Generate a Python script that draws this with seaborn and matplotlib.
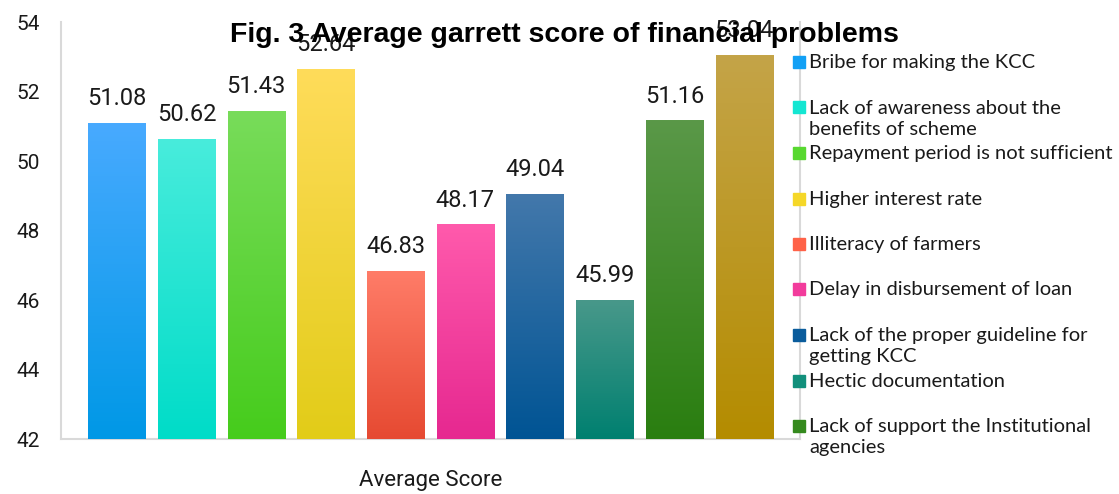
import numpy as np
import pandas as pd
import matplotlib
matplotlib.use("Agg")
import matplotlib.pyplot as plt
from matplotlib.colors import to_rgb
from matplotlib.patches import Rectangle
import seaborn as sns

### data ##########################################################
group = "Average Score"
scores = [51.08, 50.62, 51.43, 52.64, 46.83, 48.17, 49.04, 45.99, 51.16, 53.04]
# legend is cut off in the reference after the 9th entry
problems = ["Bribe for making the KCC",
            "Lack of awareness about the\nbenefits of scheme",
            "Repayment period is not sufficient",
            "Higher interest rate",
            "Illiteracy of farmers",
            "Delay in disbursement of loan",
            "Lack of the proper guideline for\ngetting KCC",
            "Hectic documentation",
            "Lack of support the Institutional\nagencies"]
legend_colors = ["#12a0f5", "#14e6d2", "#58d830", "#f5d728", "#ff6248",
                 "#f23c9c", "#0a5c9c", "#12907c", "#358a1e", "#bf9a14"]
top_colors = ["#48aaff", "#48ecdc", "#78dc5a", "#ffdc5a", "#ff7c68",
              "#ff5aac", "#4378ab", "#48988a", "#5a9848", "#c4a448"]
bottom_colors = ["#0098e6", "#00dcc8", "#46cc1c", "#e2cc18", "#e64a32",
                 "#e62890", "#005494", "#008070", "#2a7e10", "#b48c00"]

df = pd.DataFrame({"group": [group] * len(scores),
                   "problem": range(len(scores)),
                   "score": scores})

### plot ##########################################################
sns.set_theme(style="white")
plt.rcParams["font.family"] = ["Roboto", "DejaVu Sans"]

W, H = 1119, 494
fig = plt.figure(figsize=(W / 100, H / 100), dpi=100)
ax = fig.add_axes([61 / W, 1 - 439 / H, 739 / W, 417 / H])

sns.barplot(data=df, x="group", y="score", hue="problem", palette=legend_colors,
            width=0.943, gap=0.18, saturation=1, errorbar=None, legend=False, ax=ax)

ymin, ymax = 42, 54
# vertical gradient for each bar + value labels
for bar, v, ct, cb in zip(ax.patches, scores, top_colors, bottom_colors):
    x0, w = bar.get_x(), bar.get_width()
    grad = np.linspace(to_rgb(ct), to_rgb(cb), 256)[:, None, :]
    ax.imshow(grad, extent=[x0, x0 + w, ymin, v], aspect="auto", zorder=3)
    ax.annotate(f"{v:.2f}", (x0 + w / 2, v), xytext=(0, 13), textcoords="offset points",
                ha="center", va="baseline", fontsize=17, color="#1a1a1a", zorder=4)

ax.set_xlim(-0.5, 0.5)
ax.set_ylim(ymin, ymax)
ax.set_yticks(range(42, 55, 2))
ax.tick_params(axis="y", length=0, pad=15, labelsize=15, labelcolor="#1a1a1a")
ax.tick_params(axis="x", length=0, pad=22, labelsize=16, labelcolor="#1a1a1a")
ax.set_xlabel("")
ax.set_ylabel("")
for s in ["left", "bottom", "right"]:
    ax.spines[s].set_color("#d9d9d9")
    ax.spines[s].set_linewidth(1.5)
ax.spines["top"].set_visible(False)

fig.text(564 / W, 1 - 35 / H, "Fig. 3 Average garrett score of financial problems",
         ha="center", va="center", fontsize=20.5, fontweight="bold", color="black",
         family=["Liberation Sans", "DejaVu Sans"], zorder=5)

# legend, drawn item by item (first line of each label next to its marker)
pitch = 45.5
for i, (lab, col) in enumerate(zip(problems, legend_colors)):
    yc = 62 + i * pitch
    fig.patches.append(Rectangle((793 / W, 1 - (yc + 6) / H), 12 / W, 12 / H,
                                 transform=fig.transFigure, color=col))
    fig.text(809 / W, 1 - (yc - 8) / H, lab, ha="left", va="top", fontsize=14.5,
             linespacing=1.32, family=["Lato", "DejaVu Sans"], color="#1a1a1a")

fig.savefig("out.png", dpi=100)
